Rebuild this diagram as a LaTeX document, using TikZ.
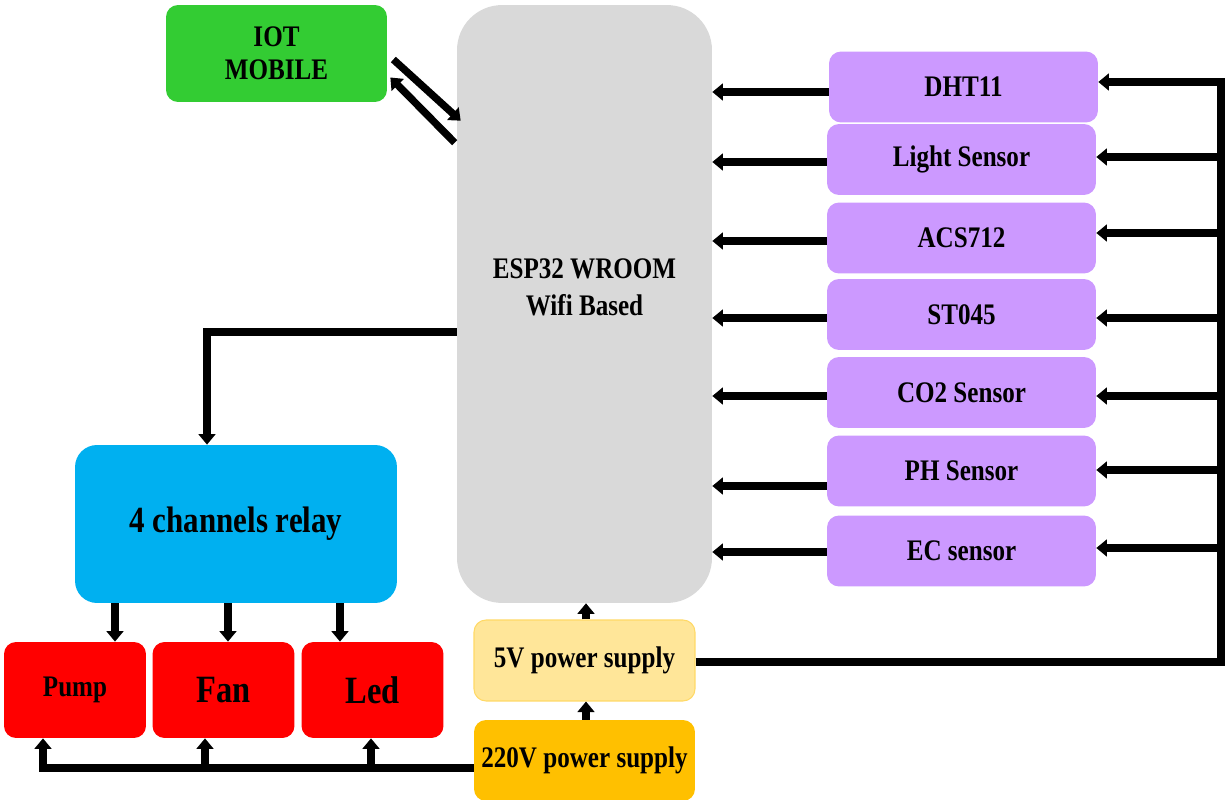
\documentclass[tikz,border=0pt]{standalone}
\usepackage{fontspec}
\setmainfont{Liberation Serif}[FakeStretch=0.84]
\usetikzlibrary{arrows.meta,calc}
\definecolor{iotgreen}{HTML}{33CC33}
\definecolor{espgray}{HTML}{D9D9D9}
\definecolor{sensorpurple}{HTML}{CC99FF}
\definecolor{relayblue}{HTML}{00B0F0}
\definecolor{loadred}{HTML}{FF0000}
\definecolor{fivev}{HTML}{FFE699}
\definecolor{fivevedge}{HTML}{FFD966}
\definecolor{twotwenty}{HTML}{FFC000}
\begin{document}
\begin{tikzpicture}[x=0.02cm,y=-0.02cm,
  box/.style={rounded corners=0.24cm, inner sep=0pt, align=center, text=black,
    font=\fontsize{17}{20}\selectfont\bfseries},
  big/.style={font=\fontsize{22}{26}\selectfont\bfseries},
  sensor/.style={box, fill=sensorpurple, minimum width=5.38cm, minimum height=1.42cm},
  load/.style={box, fill=loadred, minimum width=2.84cm, minimum height=1.92cm},
  wire/.style={line width=4pt},
  arr/.style={line width=4.2pt, -{Triangle[length=6pt,width=9.5pt]}}]
\useasboundingbox (0,0) rectangle (1225,800);

% blocks
\node[box, fill=iotgreen, minimum width=4.42cm, minimum height=1.94cm] (iot) at (276.5,53.5) {IOT\\[-1pt]MOBILE};
\node[box, fill=espgray, rounded corners=0.9cm, minimum width=5.1cm, minimum height=11.96cm,
  label={[yshift=0.34cm, align=center, font=\fontsize{17}{21}\selectfont\bfseries]center:ESP32 WROOM\\Wifi Based}] (esp) at (584.5,304) {};

\node[sensor] (dht) at (963.5,87) {DHT11};
\node[sensor] (light) at (961.5,159.5) {Light Sensor};
\node[sensor] (acs) at (961.5,238) {ACS712};
\node[sensor] (st) at (961.5,314.5) {ST045};
\node[sensor] (co2) at (961.5,392.5) {CO2 Sensor};
\node[sensor] (ph) at (961.5,471) {PH Sensor};
\node[sensor] (ec) at (961.5,551) {EC sensor};

\node[box, fill=relayblue, rounded corners=0.44cm, minimum width=6.44cm, minimum height=3.16cm,
  font=\fontsize{21}{25}\selectfont\bfseries] (relay) at (236,524) {4 channels relay};
\node[load] (pump) at (75,690) {Pump};
\node[load, big] (fan) at (223.5,690) {Fan};
\node[load, big] (led) at (372.5,690) {Led};

\node[box, fill=fivev, draw=fivevedge, line width=0.6pt, minimum width=4.42cm, minimum height=1.62cm] (v5) at (584.5,660.5) {5V power supply};
\node[box, fill=twotwenty, minimum width=4.42cm, minimum height=1.62cm] (v220) at (584.5,760.5) {220V power supply};

% IoT link
\draw[arr] ($(iot.east)+(6,6)$) -- ($(esp.north west)+(4,116)$);
\draw[arr] ($(esp.north west)+(-2,138)$) -- ($(iot.east)+(3,24)$);

% sensors to ESP
\draw[arr] (dht.west |- 0,92) -- (esp.east |- 0,92);
\draw[arr] (light.west |- 0,162) -- (esp.east |- 0,162);
\draw[arr] (acs.west |- 0,241) -- (esp.east |- 0,241);
\draw[arr] (st.west |- 0,318) -- (esp.east |- 0,318);
\draw[arr] (co2.west |- 0,396) -- (esp.east |- 0,396);
\draw[arr] (ph.west |- 0,486) -- (esp.east |- 0,486);
\draw[arr] (ec.west |- 0,552) -- (esp.east |- 0,552);

% supply bus to sensors
\coordinate (busR) at (1221,662);
\draw[arr] (v5.east |- busR) -- (busR) -- (busR |- 0,82) -- (dht.east |- 0,82);
\draw[arr] (busR |- 0,157) -- (light.east |- 0,157);
\draw[arr] (busR |- 0,233) -- (acs.east |- 0,233);
\draw[arr] (busR |- 0,318) -- (st.east |- 0,318);
\draw[arr] (busR |- 0,396) -- (co2.east |- 0,396);
\draw[arr] (busR |- 0,470) -- (ph.east |- 0,470);
\draw[arr] (busR |- 0,548) -- (ec.east |- 0,548);

% ESP to relay
\draw[arr] (esp.west |- 0,332) -| (relay.north -| 207,0);

% relay to loads
\draw[arr] (relay.south -| 115,0) -- (pump.north -| 115,0);
\draw[arr] (relay.south -| 228,0) -- (fan.north -| 228,0);
\draw[arr] (relay.south -| 340,0) -- (led.north -| 340,0);

% power chain
\draw[arr] (v220.north -| 586,0) -- (v5.south -| 586,0);
\draw[arr] (v5.north -| 586,0) -- (esp.south -| 586,0);

% 220V bus to loads
\coordinate (busL) at (43,768);
\draw[arr] (v220.west |- busL) -- (busL) -- (pump.south -| busL);
\draw[arr] (205,768) -- (fan.south -| 205,0);
\draw[arr] (371,768) -- (led.south -| 371,0);
\end{tikzpicture}
\end{document}
